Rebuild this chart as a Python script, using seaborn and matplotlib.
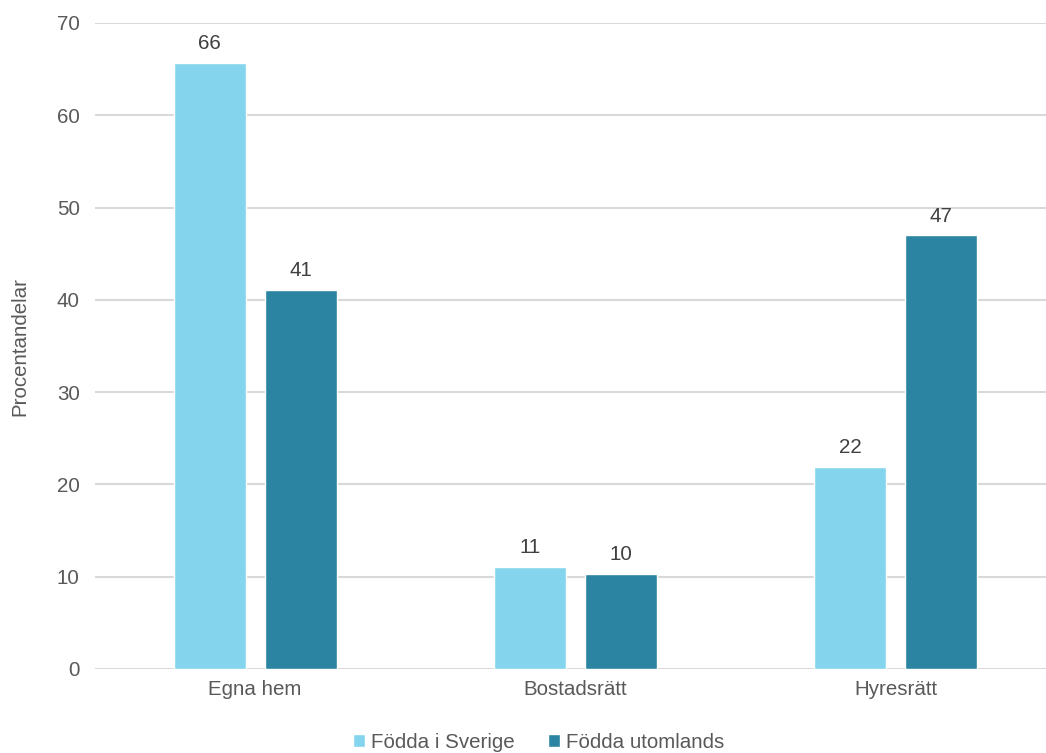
import pandas as pd
import matplotlib.pyplot as plt
import seaborn as sns

# values
categories = ["Egna hem", "Bostadsrätt", "Hyresrätt"]
series_names = ["Födda i Sverige", "Födda utomlands"]
born_sweden = [65.7, 11.1, 21.9]
born_abroad = [41.1, 10.3, 47.0]
colors = ["#84D4EE", "#2A84A2"]

df = pd.DataFrame({
    "kategori": categories * 2,
    "grupp": [series_names[0]] * 3 + [series_names[1]] * 3,
    "andel": born_sweden + born_abroad,
})

sns.set_theme(style="white")
plt.rcParams["font.family"] = ["Liberation Sans", "DejaVu Sans"]
fs = 14.8

fig = plt.figure(figsize=(10.46, 7.53), dpi=100)
ax = fig.add_axes([95 / 1046, 84 / 753, 1 - 95 / 1046, (669 - 23) / 753])

sns.barplot(data=df, x="kategori", y="andel", hue="grupp",
            palette=colors, width=0.569, gap=0.21, ax=ax,
            saturation=1, errorbar=None, legend=True)

for cont in ax.containers:
    ax.bar_label(cont, labels=[f"{v:.0f}" for v in cont.datavalues],
                 padding=7, fontsize=fs, color="#404040")

ax.set_ylim(0, 70)
ax.set_yticks(range(0, 71, 10))
ax.set_xlim(-0.5, 2.47)
ax.yaxis.grid(True, color="#D9D9D9", linewidth=1.5)
ax.set_axisbelow(True)
for s in ax.spines.values():
    s.set_visible(False)
ax.tick_params(axis="both", length=0, labelsize=fs, labelcolor="#595959")
ax.tick_params(axis="y", pad=11)
ax.tick_params(axis="x", pad=8)
ax.set_xlabel("")
ax.set_ylabel("Procentandelar", fontsize=fs, color="#595959", labelpad=20)

handles, labels = ax.get_legend_handles_labels()
ax.get_legend().remove()
fig.legend(handles, labels, loc="lower center", bbox_to_anchor=(0.515, -0.023),
           ncol=2, frameon=False, fontsize=fs, handlelength=0.6, handleheight=0.6,
           handletextpad=0.3, columnspacing=1.6, labelcolor="#595959")

fig.savefig("out.png", dpi=100)
